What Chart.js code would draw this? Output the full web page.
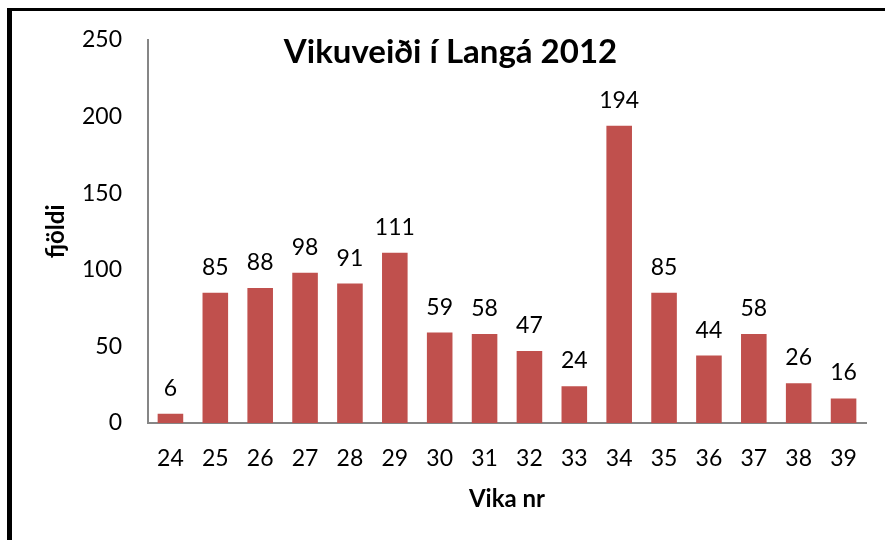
<!DOCTYPE html>
<html><head><meta charset="utf-8">
<script src="https://cdn.jsdelivr.net/npm/chart.js@4.4.0/dist/chart.umd.min.js"></script>
<style>html,body{margin:0;padding:0;background:#fff}#w{width:885px;height:540px;position:relative}</style>
</head><body><div id="w"><canvas id="c" width="885" height="540"></canvas></div>
<script>
const weeks = ['24','25','26','27','28','29','30','31','32','33','34','35','36','37','38','39'];
const catch2012 = [6,85,88,98,91,111,59,58,47,24,194,85,44,58,26,16];
const yTicks = [0,50,100,150,200,250];
const chartTitle = 'Vikuveiði í Langá 2012';
const xTitle = 'Vika nr';
const yTitle = 'fjöldi';

const FONT = 'Lato, "Open Sans", sans-serif';

const overlay = {
  id: 'overlay',
  afterDatasetsDraw(chart) {
    const ctx = chart.ctx;
    const meta = chart.getDatasetMeta(0);
    ctx.save();
    ctx.fillStyle = '#000';
    ctx.font = '23px ' + FONT;
    ctx.textAlign = 'center';
    ctx.textBaseline = 'alphabetic';
    meta.data.forEach((bar, i) => {
      ctx.fillText(String(catch2012[i]), bar.x, bar.y - 18);
    });
    ctx.font = 'bold 33px ' + FONT;
    ctx.fillText(chartTitle, chart.width / 2 + 8, chart.chartArea.top + 23);
    ctx.fillStyle = '#000';
    ctx.fillRect(7, 8, chart.width - 7, 3);
    ctx.fillRect(7, 8, 5, chart.height - 8);
    ctx.restore();
  }
};

new Chart(document.getElementById('c'), {
  type: 'bar',
  data: {
    labels: weeks,
    datasets: [{
      data: catch2012,
      backgroundColor: '#C0504D',
      borderWidth: 0,
      categoryPercentage: 1,
      barPercentage: 0.57
    }]
  },
  options: {
    responsive: false,
    animation: false,
    events: [],
    layout: { padding: { left: 0, right: 19, top: 39, bottom: 0 } },
    plugins: { legend: { display: false }, tooltip: { enabled: false }, title: { display: false } },
    scales: {
      x: {
        grid: { display: false, drawTicks: false },
        border: { display: true, color: '#868686', width: 2 },
        ticks: { color: '#000', font: { family: FONT, size: 23 }, padding: 22, maxRotation: 0, autoSkip: false },
        title: { display: true, text: xTitle, color: '#000', font: { family: FONT, size: 24, weight: 'bold' }, padding: { top: 0, bottom: 26 } },
        afterFit(s) { s.height = 117; }
      },
      y: {
        min: 0, max: 250,
        afterBuildTicks(s) { s.ticks = yTicks.map(v => ({ value: v })); },
        grid: { display: false, drawTicks: false },
        border: { display: true, color: '#868686', width: 2 },
        ticks: { color: '#000', font: { family: FONT, size: 23 }, padding: 26 },
        title: { display: true, text: yTitle, color: '#000', font: { family: FONT, size: 24, weight: 'bold' }, padding: { top: 42, bottom: 0 } },
        afterFit(s) { s.width = 148; }
      }
    }
  },
  plugins: [overlay]
});
</script></body></html>
